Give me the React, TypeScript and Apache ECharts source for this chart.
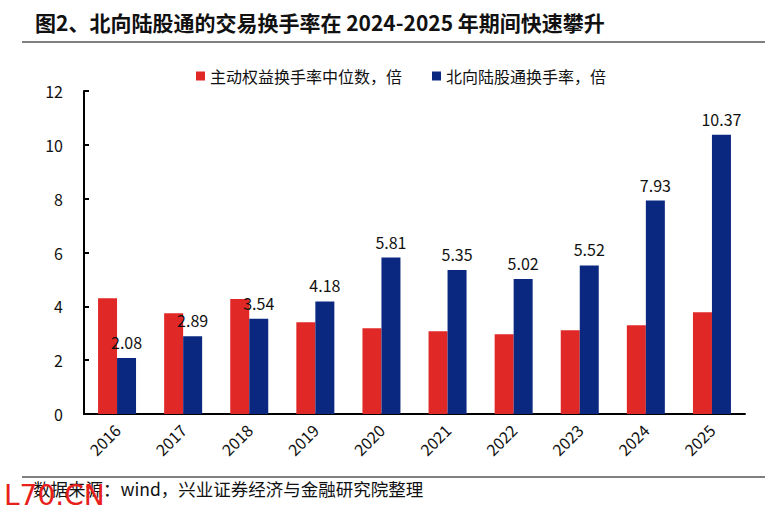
import React, { useEffect, useRef } from "react";
import * as echarts from "echarts";

const categories = ["2016", "2017", "2018", "2019", "2020", "2021", "2022", "2023", "2024", "2025"];
const activeEquityTurnover = [4.3, 3.74, 4.27, 3.41, 3.19, 3.07, 2.96, 3.11, 3.3, 3.78];
const northboundTurnover = [2.08, 2.89, 3.54, 4.18, 5.81, 5.35, 5.02, 5.52, 7.93, 10.37];
const seriesNames = ["主动权益换手率中位数，倍", "北向陆股通换手率，倍"];
const yTicks = { min: 0, max: 12, interval: 2 };
const titleText = "图2、北向陆股通的交易换手率在 2024-2025 年期间快速攀升";
const sourceText = "数据来源：wind，兴业证券经济与金融研究院整理";
const watermarkText = "L70.CN";

const FONT = "'Noto Sans CJK SC', 'Noto Sans', sans-serif";

export default function App() {
  const ref = useRef<HTMLDivElement>(null);
  useEffect(() => {
    if (!ref.current) return;
    const chart = echarts.init(ref.current, null, { renderer: "svg" });
    chart.setOption({
      animation: false,
      backgroundColor: "#ffffff",
      textStyle: { fontFamily: FONT },
      graphic: [
        {
          type: "text",
          left: 35,
          top: 11,
          style: { text: titleText, font: `bold 21px ${FONT}`, fill: "#111" },
        },
        {
          type: "line",
          shape: { x1: 22, y1: 42, x2: 765, y2: 42 },
          style: { stroke: "#000", lineWidth: 1 },
        },
        {
          type: "line",
          shape: { x1: 22, y1: 477, x2: 765, y2: 477 },
          style: { stroke: "#000", lineWidth: 1 },
        },
        {
          type: "text",
          left: 33,
          top: 480,
          style: { text: sourceText, font: `17.5px ${FONT}`, fill: "#111" },
        },
        {
          type: "text",
          left: 4,
          top: 481,
          style: { text: watermarkText, font: `28px 'DejaVu Sans', sans-serif`, fill: "#e8201c" },
        },
      ],
      legend: {
        top: 63,
        left: 191,
        itemWidth: 9,
        itemHeight: 9,
        itemGap: 30,
        icon: "rect",
        textStyle: { fontSize: 16, color: "#111", fontFamily: FONT },
        data: seriesNames,
      },
      grid: { left: 84, right: 31, top: 91, bottom: 103, containLabel: false },
      xAxis: {
        type: "category",
        data: categories,
        axisLine: { lineStyle: { color: "#000", width: 2 } },
        axisTick: { inside: true, length: 5, lineStyle: { color: "#000", width: 2 } },
        axisLabel: { rotate: 45, fontSize: 16, color: "#111", margin: 13, fontFamily: FONT },
      },
      yAxis: {
        type: "value",
        min: yTicks.min,
        max: yTicks.max,
        interval: yTicks.interval,
        splitLine: { show: false },
        axisLine: { show: true, lineStyle: { color: "#000", width: 2 } },
        axisTick: { show: true, inside: true, length: 5, lineStyle: { color: "#000", width: 2 } },
        axisLabel: { fontSize: 16, color: "#111", margin: 21, fontFamily: FONT },
      },
      series: [
        {
          name: seriesNames[0],
          type: "bar",
          data: activeEquityTurnover,
          barWidth: 19,
          barGap: "0%",
          itemStyle: { color: "#e02826" },
        },
        {
          name: seriesNames[1],
          type: "bar",
          data: northboundTurnover,
          barWidth: 19,
          barGap: "0%",
          itemStyle: { color: "#0b2880" },
          label: {
            show: true,
            position: "top",
            distance: 8,
            fontSize: 16,
            color: "#111",
            fontFamily: FONT,
            formatter: (p: any) => p.value.toFixed(2),
          },
        },
      ],
    });
    return () => chart.dispose();
  }, []);
  return (
    <div
      ref={ref}
      style={{ position: "absolute", left: 0, top: 0, width: 776, height: 517 }}
    />
  );
}
